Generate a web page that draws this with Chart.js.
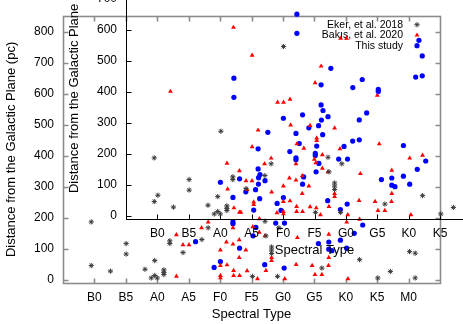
<!DOCTYPE html>
<html>
<head>
<meta charset="utf-8">
<script src="https://cdn.jsdelivr.net/npm/chart.js@4.4.1/dist/chart.umd.min.js"></script>
<style>
  html, body { margin: 0; padding: 0; background: #fff; overflow: hidden; }
  #wrap { position: relative; width: 463px; height: 324px; overflow: hidden; }
  canvas { position: absolute; }
  #outer { left: 0; top: 0; }
  #inner { left: 63px; top: -64px; }
</style>
</head>
<body>
<div id="wrap">
  <canvas id="outer" width="463" height="324"></canvas>
  <canvas id="inner" width="463" height="324"></canvas>
</div>
<script>
// spectral type tick labels (position 0 = B0, one step = 5 subclasses)
const typeLabels = ["B0", "B5", "A0", "A5", "F0", "F5", "G0", "G5", "K0", "K5", "M0"];
const zTicks = [0, 100, 200, 300, 400, 500, 600, 700, 800];
const seriesNames = ["Eker, et al. 2018", "Bakış, et al. 2020", "This study"];

// Eker, et al. 2018
const ekerType = [6.02, 2.02, -0.1, -0.1, 0.51, 1.01, 1.01, 1.92, 1.61, 1.81, 1.92, 2.0, 2.21, 2.21, 2.21,
  2.40, 2.40, 2.82, 3.62, 3.42, 5.43, 5.64, 5.64, 5.64, 5.83, 5.03, 7.24, 10.03, 10.21, 8.44, 9.42, 9.02,
  10.21, 5.46, 5.87];
const ekerZ = [752, 272, 186, 45, 27, 116, 82, 61, 33, 5, 13, 5, 31, 23, 16,
  125, 116, 87, 167, 129, 188, 105, 95, 84, 10, 10, 37, 90, 85, 64, 26, 5,
  5, 141, 167];

// Bakış, et al. 2020
const bakisType = [5.02, 2.42, 5.83, 6.02, 5.21, 5.02, 7.0, 4.22, 4.24, 4.86, 5.64, 5.07, 5.07, 4.44, 4.66,
  5.81, 5.25, 7.06, 8.44, 8.03, 3.62, 3.41, 4.41, 2.61, 4.20, 4.41, 4.61, 2.82, 3.01, 4.01, 4.82, 4.61,
  4.01, 4.22, 4.43, 2.61, 4.01, 4.01, 4.43, 4.62, 5.43, 5.64, 5.64, 6.42, 5.46, 6.93, 7.45, 7.24, 5.19,
  6.06, 8.07, 7.46, 7.46, 6.46, 7.02, 5.04, 5.25, 4.86];
const bakisZ = [724, 607, 572, 572, 482, 428, 388, 375, 292, 290, 282, 250, 242, 231, 217,
  215, 196, 231, 194, 185, 185, 167, 167, 144, 121, 114, 128, 112, 112, 95, 95, 71,
  45, 47, 29, 10, 13, 5, 13, 13, 141, 71, 61, 48, 29, 45, 45, 16, 2,
  2, 2, 146, 71, 135, 16, 170, 152, 28];

// This study
const studyType = [10.33, 4.44, 4.44, 8.43, 5.52, 8.22, 8.43, 6.52, 5.21, 6.22, 7.03, 7.03, 5.21, 5.27, 4.62,
  4.01, 5.43, 5.22, 6.66, 4.82, 5.13, 4.41, 5.26, 5.07, 5.94, 7.83, 4.41, 4.41, 3.22, 4.62, 4.01, 3.81,
  6.04, 7.13, 7.46, 7.83, 7.46, 7.56, 8.03, 8.54, 8.27, 5.14, 5.05, 5.77, 6.05, 5.42];
const studyZ = [772, 650, 588, 515, 475, 447, 451, 439, 422, 413, 407, 400, 357, 339, 325,
  314, 319, 308, 331, 283, 290, 265, 261, 224, 223, 226, 186, 180, 122, 101, 58, 39,
  37, 116, 121, 127, 98, 93, 101, 176, 149, 168, 141, 182, 182, 48];

function pts(xs, ys) {
  return xs.map((x, i) => ({ x: x, y: ys[i] }));
}

// border with inward ticks on all four sides, gnuplot style
const framePlugin = {
  id: "frame",
  beforeDatasetsDraw(chart, args, opts) {
    const { ctx, chartArea: a, scales } = chart;
    const L = Math.round(a.left) + 0.5, R = Math.round(a.right) + 0.5;
    const T = Math.round(a.top) + 0.5, B = Math.round(a.bottom) + 0.5;
    ctx.save();
    ctx.strokeStyle = opts.color;
    ctx.lineWidth = opts.width;
    ctx.strokeRect(L, T, R - L, B - T);
    ctx.beginPath();
    scales.x.ticks.forEach((t) => {
      const px = Math.round(scales.x.getPixelForValue(t.value)) + 0.5;
      ctx.moveTo(px, B); ctx.lineTo(px, B - 5);
      ctx.moveTo(px, T); ctx.lineTo(px, T + 5);
    });
    scales.y.ticks.forEach((t) => {
      const py = Math.round(scales.y.getPixelForValue(t.value)) + 0.5;
      ctx.moveTo(L, py); ctx.lineTo(L + 5, py);
      ctx.moveTo(R, py); ctx.lineTo(R - 5, py);
    });
    ctx.stroke();
    ctx.restore();
  },
};

// key in the top right corner: text right aligned, marker after it
const keyPlugin = {
  id: "key",
  afterDatasetsDraw(chart) {
    const { ctx, chartArea: a } = chart;
    ctx.save();
    ctx.font = "10.5px 'Liberation Sans', Arial, sans-serif";
    ctx.textAlign = "right";
    ctx.textBaseline = "middle";
    chart.data.datasets.forEach((ds, i) => {
      const y = a.top + 8.5 + i * 10.5;
      const x = a.right - 37;
      ctx.fillStyle = "#000";
      ctx.fillText(ds.label, x, y);
      ctx.fillStyle = ds.backgroundColor;
      ctx.strokeStyle = ds.borderColor;
      ctx.lineWidth = ds.borderWidth;
      Chart.helpers.drawPoint(ctx, {
        pointStyle: ds.pointStyle, radius: ds.pointRadius, rotation: 0,
        borderWidth: ds.borderWidth,
      }, x + 14, y);
    });
    ctx.restore();
  },
};

function makeChart(id, frameColor) {
  const font = { family: "'Liberation Sans', Arial, sans-serif", size: 12 };
  return new Chart(document.getElementById(id), {
    type: "scatter",
    data: {
      datasets: [
        {
          label: seriesNames[0],
          data: pts(ekerType, ekerZ),
          pointStyle: "star",
          pointRadius: 2.6,
          borderWidth: 1,
          borderColor: "#3a3a3a",
          backgroundColor: "#3a3a3a",
        },
        {
          label: seriesNames[1],
          data: pts(bakisType, bakisZ),
          pointStyle: "triangle",
          pointRadius: 2.8,
          borderWidth: 0,
          borderColor: "#ff0000",
          backgroundColor: "#ff0000",
        },
        {
          label: seriesNames[2],
          data: pts(studyType, studyZ),
          pointStyle: "circle",
          pointRadius: 2.6,
          borderWidth: 0,
          borderColor: "#0000ff",
          backgroundColor: "#0000ff",
        },
      ],
    },
    options: {
      responsive: false,
      animation: false,
      events: [],
      layout: { padding: { top: 13.5, right: 23, left: 0, bottom: 0 } },
      plugins: {
        legend: { display: false },
        tooltip: { enabled: false },
        frame: { color: frameColor, width: frameColor === "#000" ? 1 : 1.6 },
      },
      scales: {
        x: {
          type: "linear",
          min: -1,
          max: 11,
          grid: { display: false, drawTicks: false },
          border: { display: false },
          afterBuildTicks: (s) => { s.ticks = typeLabels.map((_, i) => ({ value: i })); },
          afterFit: (s) => { s.height = 41.4; },
          ticks: {
            color: "#000", font, padding: 8, maxRotation: 0, autoSkip: false,
            callback: (v) => typeLabels[v],
          },
          title: {
            display: true, text: "Spectral Type", color: "#000",
            font: { family: font.family, size: 13 }, padding: { top: 0, bottom: 1.5 },
          },
        },
        y: {
          type: "linear",
          min: -10,
          max: 850,
          grid: { display: false, drawTicks: false },
          border: { display: false },
          afterBuildTicks: (s) => { s.ticks = zTicks.map((v) => ({ value: v })); },
          afterFit: (s) => { s.width = 63; },
          ticks: { color: "#000", font, padding: 9 },
          title: {
            display: true, text: "Distance from the Galactic Plane (pc)", color: "#000",
            font: { family: font.family, size: 13 }, padding: { top: 4, bottom: 0 },
          },
        },
      },
    },
    plugins: [framePlugin, keyPlugin],
  });
}

makeChart("outer", "#8c8c8c");
makeChart("inner", "#000");
</script>
</body>
</html>
